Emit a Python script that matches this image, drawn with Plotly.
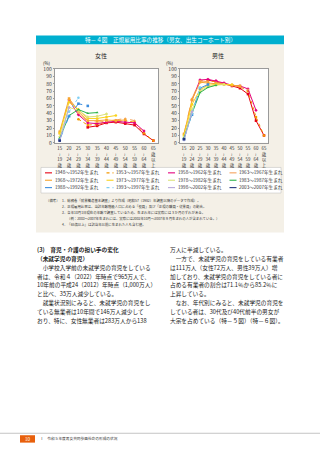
import plotly.graph_objects as go

# ---------------- data ----------------
age_groups = ["15-19", "20-24", "25-29", "30-34", "35-39", "40-44",
              "45-49", "50-54", "55-59", "60-64", "65+"]
age_tick_lines = [["15", "≀", "19", "歳"], ["20", "≀", "24", "歳"], ["25", "≀", "29", "歳"],
                  ["30", "≀", "34", "歳"], ["35", "≀", "39", "歳"], ["40", "≀", "44", "歳"],
                  ["45", "≀", "49", "歳"], ["50", "≀", "54", "歳"], ["55", "≀", "59", "歳"],
                  ["60", "≀", "64", "歳"], ["65", "歳", "以", "上"]]
y_ticks = [0, 10, 20, 30, 40, 50, 60, 70, 80, 90, 100]

cohort_labels = ["1948〜1952年生まれ", "1953〜1957年生まれ", "1958〜1962年生まれ", "1963〜1967年生まれ",
                 "1968〜1972年生まれ", "1973〜1977年生まれ", "1978〜1982年生まれ", "1983〜1987年生まれ",
                 "1988〜1992年生まれ", "1993〜1997年生まれ", "1998〜2002年生まれ", "2003〜2007年生まれ"]

N = None
female_1948_52 = [N, N, N, 21, 23, 27, 28, 26, 24, 12, 3]
female_1953_57 = [N, N, 32, 24, 25, 28, 29, 30, 28, 13, 3]
female_1958_62 = [N, 58, 38, 27, 26, 28, 29, 28, 27, 16]
female_1963_67 = [12, 59, 40, 29, 28, 29, 31, 33, 30]
female_1968_72 = [15, 60, 43, 30, 30, 31, 30, 31]
female_1973_77 = [13, 55, 45, 33, 33, 35, 37]
female_1978_82 = [8, 48, 44, 35, 36, 39]
female_1983_87 = [6, 37, 45, 40, 41]
female_1988_92 = [4, 36, 53, 50]
female_1993_97 = [3, 42, 61]
female_1998_02 = [3, 48]
female_2003_07 = [3]

male_1948_52 = [N, N, N, 85, 83, 80, 77, 74, 66, 30, 10]
male_1953_57 = [N, N, 84, 84, 83, 80, 78, 76, 70, 35, 10]
male_1958_62 = [N, 58, 85, 86, 84, 81, 78, 77, 73, 44]
male_1963_67 = [12, 60, 84, 83, 82, 80, 78, 76, 72]
male_1968_72 = [12, 58, 82, 81, 80, 79, 78, 77]
male_1973_77 = [10, 52, 72, 78, 79, 79, 79]
male_1978_82 = [8, 45, 70, 76, 78, 79]
male_1983_87 = [6, 40, 68, 75, 78]
male_1988_92 = [5, 38, 74, 79]
male_1993_97 = [4, 40, 75]
male_1998_02 = [4, 42]
male_2003_07 = [5]

female_series = [female_1948_52, female_1953_57, female_1958_62, female_1963_67,
                 female_1968_72, female_1973_77, female_1978_82, female_1983_87,
                 female_1988_92, female_1993_97, female_1998_02, female_2003_07]
male_series = [male_1948_52, male_1953_57, male_1958_62, male_1963_67,
               male_1968_72, male_1973_77, male_1978_82, male_1983_87,
               male_1988_92, male_1993_97, male_1998_02, male_2003_07]

# ---------------- styles ----------------
colors = ["#E60012", "#F39800", "#E4007F", "#F5A35C", "#F7A52E", "#F9D21C",
          "#DCE27A", "#2DB34A", "#3C8DDE", "#7ECEF4", "#B9A9DA", "#24357E"]
dashes = ["solid", "dot", "solid", "dash", "solid", "solid",
          "solid", "solid", "dash", "dot", "solid", "solid"]
symbols = ["square", "circle", "diamond", "triangle-up", "square", "circle",
           "diamond", "triangle-up", "square", "circle", "diamond", "square"]

FONT = "Noto Sans CJK JP"
W, H = 320, 453


def px(x):
    return x / W


def py(y):
    return 1 - y / H


fig = go.Figure()

for k, (fv, mv) in enumerate(zip(female_series, male_series)):
    for vals, xa, ya in ((fv, "x", "y"), (mv, "x2", "y2")):
        fig.add_trace(go.Scatter(
            x=age_groups[:len(vals)], y=vals, xaxis=xa, yaxis=ya,
            mode="lines+markers", showlegend=False, name=cohort_labels[k],
            line=dict(color=colors[k], width=1, dash=dashes[k]),
            marker=dict(color=colors[k], size=2.6, symbol=symbols[k]),
            cliponaxis=False, hoverinfo="skip"))

plot_top, plot_bot = 66, 141
fem_x0, fem_x1 = 55, 158
mal_x0, mal_x1 = 180, 268

tick_text = ["<br>".join(lines) for lines in age_tick_lines]

axis_common = dict(showgrid=False, zeroline=False, showline=True, mirror=True,
                   linecolor="#9a9a9a", linewidth=0.6)
xaxis_common = dict(type="category", categoryorder="array", categoryarray=age_groups,
                    range=[-0.5, 10.5], tickvals=age_groups, ticktext=tick_text,
                    tickfont=dict(family=FONT, size=4.4, color="#333"),
                    ticks="", ticklabelstandoff=1, fixedrange=True, **axis_common)
yaxis_common = dict(range=[0, 100], tickvals=y_ticks, ticks="outside", ticklen=1.5,
                    tickcolor="#9a9a9a", tickwidth=0.5,
                    tickfont=dict(family=FONT, size=5.0, color="#333"),
                    domain=[py(plot_bot), py(plot_top)], **axis_common)

annotations = []
shapes = []


def txt(x, y, text, size, anchor="left", color="#222"):
    annotations.append(dict(x=px(x), y=py(y), xref="paper", yref="paper",
                            text=text, showarrow=False, xanchor=anchor, yanchor="middle",
                            borderpad=0,
                            font=dict(family=FONT, size=size, color=color)))


# panel / header
shapes.append(dict(type="rect", xref="paper", yref="paper", x0=px(36), x1=px(284),
                   y0=py(232), y1=py(41), fillcolor="#F4F0E7", line=dict(width=0), layer="below"))
shapes.append(dict(type="rect", xref="paper", yref="paper", x0=px(36), x1=px(284),
                   y0=py(41), y1=py(32), fillcolor="#00AFCF", line=dict(width=0), layer="below"))
txt(160, 36.6, "特－４図　正規雇用比率の推移（男女、出生コーホート別）", 5.6, "center", "white")

# plot backgrounds
for xr, yr in (("x domain", "y domain"), ("x2 domain", "y2 domain")):
    shapes.append(dict(type="rect", xref=xr, yref=yr, x0=0, x1=1, y0=0, y1=1,
                       fillcolor="white", line=dict(width=0), layer="below"))

# titles
txt(101, 52.8, "女性", 6.0, "center")
txt(218, 52.8, "男性", 6.0, "center")
txt(47, 59.8, "(%)", 4.4, "center")
txt(170, 59.8, "(%)", 4.4, "center")

# legend box
shapes.append(dict(type="rect", xref="paper", yref="paper", x0=px(41), x1=px(281),
                   y0=py(192), y1=py(166), fillcolor="white",
                   line=dict(color="#b8b8b8", width=0.5), layer="below"))
leg_cols = [45, 106.5, 168, 229.5]
leg_rows = [171.5, 179, 186.5]
for k, lab in enumerate(cohort_labels):
    cx = leg_cols[k % 4]
    cy = leg_rows[k // 4]
    shapes.append(dict(type="line", xref="paper", yref="paper", x0=px(cx), x1=px(cx + 7),
                       y0=py(cy), y1=py(cy), line=dict(color=colors[k], width=1.1, dash=dashes[k])))
    txt(cx + 8.5, cy, lab, 4.6, "left", "#333")

# notes
notes = [
    (45, 200, "（備考）"),
    (61, 200, "1．総務省「就業構造基本調査」より作成（昭和57（1982）年調査以降のデータで作成）。"),
    (61, 206, "2．正規雇用比率は、当該年齢階級人口に占める「役員」及び「正規の職員・従業員」の割合。"),
    (61, 212, "3．各年10月1日現在の年齢で調査しているため、生まれ年には実際には３か月のずれがある。"),
    (66, 218, "（例：2003〜2007年生まれには、実際には2002年10月〜2007年９月生まれの人が含まれている。）"),
    (61, 224, "4．「65歳以上」は該当年以前に生まれた人も含む値。"),
]
for x, y, s in notes:
    txt(x, y, s, 3.4, "left", "#333")

# body text
left_lines = [
    "<b>(3)　育児・介護の担い手の変化</b>",
    "<b>（未就学児の育児）</b>",
    "　小学校入学前の未就学児の育児をしている",
    "者は、令和４（2022）年時点で965万人で、",
    "10年前の平成24（2012）年時点（1,000万人）",
    "と比べ、35万人減少している。",
    "　就業状況別にみると、未就学児の育児をし",
    "ている無業者は10年間で146万人減少して",
    "おり、特に、女性無業者は283万人から138",
]
right_lines = [
    "万人に半減している。",
    "　一方で、未就学児の育児をしている有業者",
    "は111万人（女性72万人、男性39万人）増",
    "加しており、未就学児の育児をしている者に",
    "占める有業者の割合は71.1％から85.2％に",
    "上昇している。",
    "　なお、年代別にみると、未就学児の育児を",
    "している者は、30代及び40代前半の男女が",
    "大宗を占めている（特－５図）（特－６図）。",
]
for i, s in enumerate(left_lines):
    txt(36, 249 + 9.1 * i, s, 5.7, "left", "#222")
for i, s in enumerate(right_lines):
    txt(169, 249 + 9.1 * i, s, 5.7, "left", "#222")

# footer
shapes.append(dict(type="line", xref="paper", yref="paper", x0=0, x1=1, y0=py(436), y1=py(436),
                   line=dict(color="#c4c4c4", width=1)))
shapes.append(dict(type="rect", xref="paper", yref="paper", x0=px(20), x1=px(35),
                   y0=py(445.5), y1=py(438), fillcolor="#E8600C", line=dict(width=0)))
txt(27.5, 441.8, "10", 4.6, "center", "white")
txt(39, 441.8, "Ⅰ　令和５年度男女共同参画社会の形成の状況", 3.7, "left", "#333")

fig.update_layout(
    width=W, height=H, margin=dict(l=0, r=0, t=0, b=0),
    paper_bgcolor="white", plot_bgcolor="rgba(0,0,0,0)",
    showlegend=False,
    xaxis=dict(domain=[px(fem_x0), px(fem_x1)], anchor="y", **xaxis_common),
    yaxis=dict(anchor="x", **yaxis_common),
    xaxis2=dict(domain=[px(mal_x0), px(mal_x1)], anchor="y2", **xaxis_common),
    yaxis2=dict(anchor="x2", **yaxis_common),
    annotations=annotations, shapes=shapes,
    font=dict(family=FONT),
)

fig.write_html("out.html")
